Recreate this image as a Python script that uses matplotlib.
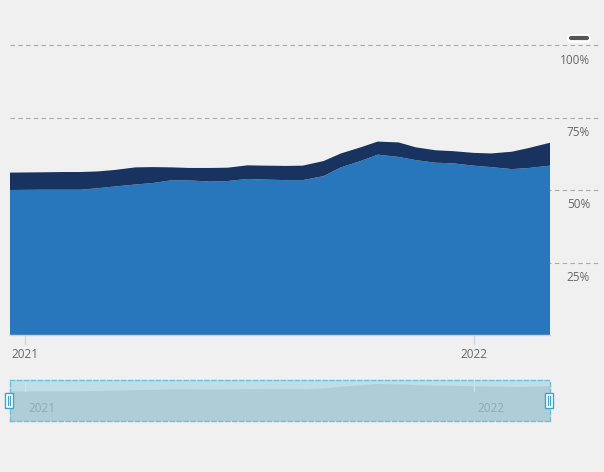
import matplotlib
matplotlib.use("Agg")
import matplotlib.pyplot as plt
import matplotlib.dates as mdates
from matplotlib.patches import Rectangle, FancyBboxPatch
from matplotlib.lines import Line2D
import numpy as np
import pandas as pd

plt.rcParams['font.family'] = ['Open Sans', 'DejaVu Sans']

dates = pd.to_datetime([
    "2020-12-20", "2021-01-15", "2021-02-01", "2021-02-15", "2021-03-01", "2021-03-15",
    "2021-04-01", "2021-04-15", "2021-05-01", "2021-05-15", "2021-06-01", "2021-06-15",
    "2021-07-01", "2021-07-15", "2021-08-01", "2021-08-15", "2021-09-01", "2021-09-15",
    "2021-10-01", "2021-10-15", "2021-11-01", "2021-11-15", "2021-12-01", "2021-12-15",
    "2022-01-01", "2022-01-15", "2022-02-01", "2022-02-15", "2022-03-04",
])
series_a = [50.0, 50.1, 50.1, 50.1, 50.6, 51.2, 51.9, 52.4, 53.4, 53.3, 52.9, 53.1,
            53.8, 53.6, 53.4, 53.4, 54.8, 57.8, 60.0, 62.2, 61.4, 60.3, 59.4, 59.2,
            58.4, 57.9, 57.2, 57.6, 58.4]
series_b = [6.0, 6.0, 6.1, 6.1, 5.8, 5.7, 5.9, 5.5, 4.4, 4.3, 4.7, 4.6,
            4.7, 4.8, 4.9, 5.0, 5.2, 4.8, 4.7, 4.5, 5.0, 4.4, 4.3, 4.2,
            4.4, 4.7, 6.0, 6.9, 7.9]
y_ticks = [25, 50, 75, 100]
y_labels = ["25%", "50%", "75%", "100%"]
x_ticks = pd.to_datetime(["2021-01-01", "2022-01-01"])
x_labels = ["2021", "2022"]

W, H = 604, 472
bg = "#f0f0f0"
c_light = "#2876bb"
c_dark = "#18335f"

fig = plt.figure(figsize=(W / 100, H / 100), dpi=100, facecolor=bg)

def rect(x0, y0, x1, y1):
    return [x0 / W, 1 - y1 / H, (x1 - x0) / W, (y1 - y0) / H]

ax = fig.add_axes(rect(10, 45, 550, 335))
ax.set_facecolor("none")
ax.stackplot(dates, series_a, series_b, colors=[c_light, c_dark], linewidth=0)
ax.set_xlim(dates[0], dates[-1])
ax.set_ylim(0, 100)
for s in ax.spines.values():
    s.set_visible(False)
ax.spines['bottom'].set_visible(True)
ax.spines['bottom'].set_color("#ccd6eb")
ax.spines['bottom'].set_linewidth(1)
ax.set_yticks([])
ax.set_xticks(x_ticks)
ax.set_xticklabels(x_labels, color="#666666", fontsize=8.5)
ax.tick_params(axis='x', length=7, color="#ccd6eb", width=1, pad=2)

xmax_frac = (600 - 10) / 540
for v, lab in zip(y_ticks, y_labels):
    ax.axhline(v, xmin=0, xmax=xmax_frac, color="#aaaaaa", lw=0.8,
               ls=(0, (4, 3)), clip_on=False, zorder=0)
    ax.annotate(lab, xy=(1, v), xycoords=('axes fraction', 'data'),
                xytext=(590 - 550, -15), textcoords='offset pixels',
                ha='right', va='center', color="#666666", fontsize=8.5)

# legend marker
fig.patches.append(FancyBboxPatch((567 / W, 1 - 43 / H), 24 / W, 9 / H,
                                  boxstyle="round,pad=0,rounding_size=0.008",
                                  transform=fig.transFigure, facecolor="white",
                                  edgecolor="none"))
fig.lines.append(Line2D([571 / W, 587 / W], [1 - 38 / H, 1 - 38 / H],
                        transform=fig.transFigure, color="#555555", lw=3,
                        solid_capstyle='round'))

# navigator
nav = fig.add_axes(rect(10, 380, 550, 421))
nav.set_facecolor("#bedde7")
nav.fill_between(dates, 0, series_a, color="#afcdd6", lw=0)
nav.set_xlim(dates[0], dates[-1])
nav.set_ylim(0, 68)
nav.set_xticks([])
nav.set_yticks([])
for s in nav.spines.values():
    s.set_color("#6cc0d8")
    s.set_linestyle((0, (3, 2)))
    s.set_linewidth(1)
for d, lab in zip(x_ticks, x_labels):
    nav.axvline(d, ymin=0.72, ymax=1, color="#cfe3ea", lw=0.8)
    nav.annotate(lab, xy=(d, 0), xycoords=('data', 'axes fraction'),
                 xytext=(4, 6), textcoords='offset pixels', ha='left',
                 va='bottom', color="#8faab3", fontsize=8.5)

for hx in (9, 549):
    fig.patches.append(Rectangle(((hx - 4) / W, 1 - 408 / H), 8 / W, 15 / H,
                                 transform=fig.transFigure, facecolor="white",
                                 edgecolor="#3aa6c8", lw=1))
    for dx in (-1.2, 1.2):
        fig.lines.append(Line2D([(hx + dx) / W] * 2, [1 - 405 / H, 1 - 396 / H],
                                transform=fig.transFigure, color="#3aa6c8", lw=0.8))

fig.savefig("out.png", dpi=100, facecolor=bg)
